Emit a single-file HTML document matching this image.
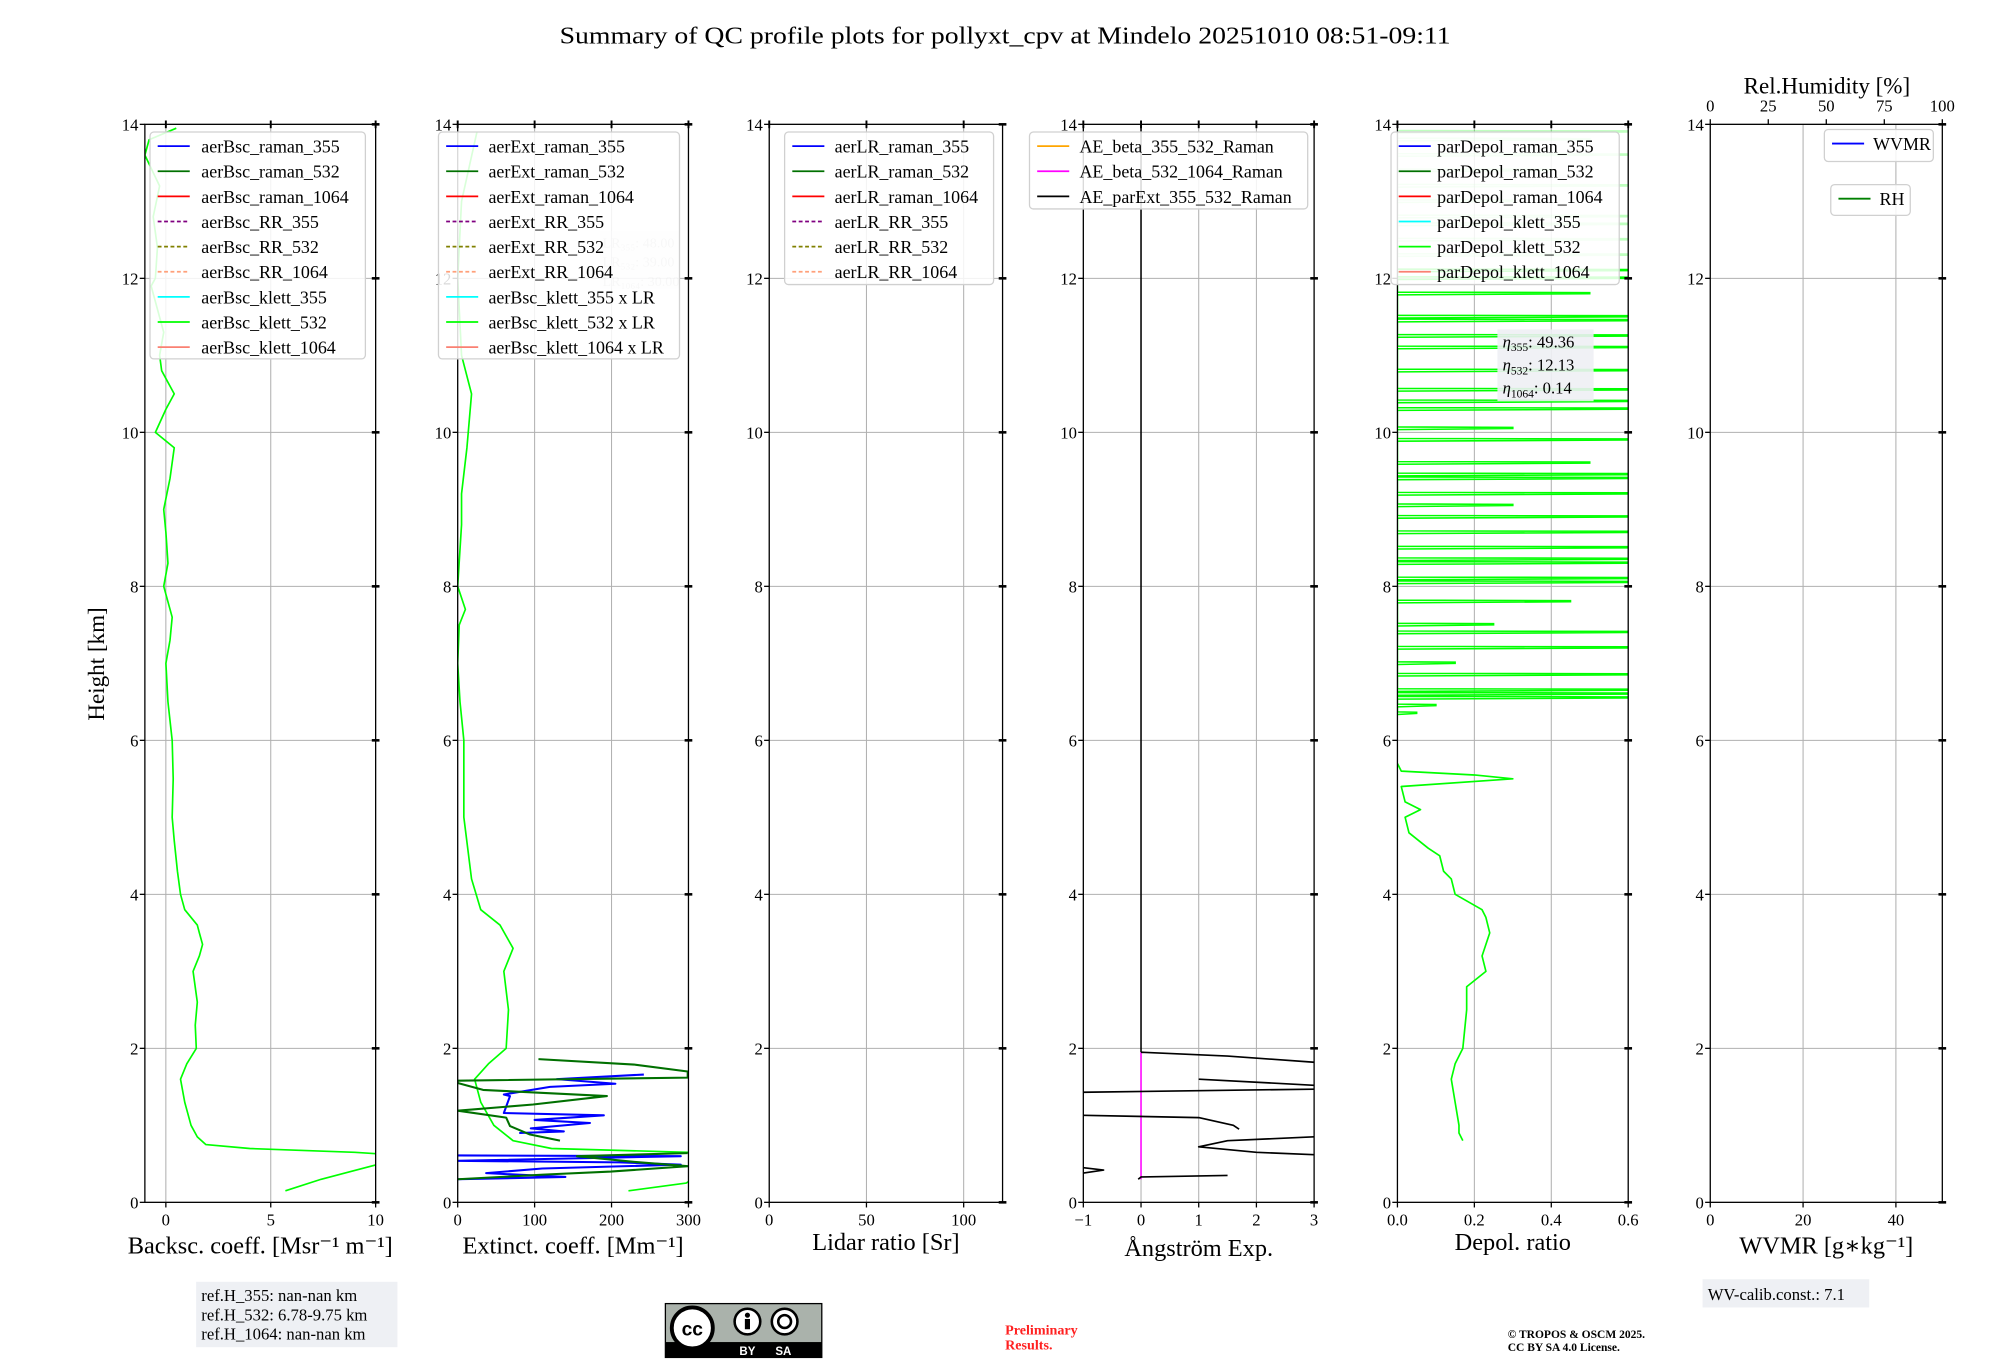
<!DOCTYPE html>
<html><head><meta charset="utf-8">
<style>
html,body{margin:0;padding:0;background:#fff;}
svg{display:block;font-family:"Liberation Serif","DejaVu Serif",serif;}
</style></head>
<body>
<svg id="fig" xmlns="http://www.w3.org/2000/svg" width="2000" height="1360" viewBox="0 0 1560 1061" preserveAspectRatio="none">
<rect width="1560" height="1061" fill="#fff"/>
<text x="784" y="34" font-size="19" text-anchor="middle" textLength="695" lengthAdjust="spacingAndGlyphs">Summary of QC profile plots for pollyxt_cpv at Mindelo 20251010 08:51-09:11</text>
<text x="0" y="0" font-size="18" text-anchor="middle" transform="translate(81,518) rotate(-90)">Height [km]</text>
<g id="plots"></g>
<rect x="153" y="1000" width="157" height="51" fill="#eef0f4"/>
<text x="157" y="1015" font-size="13">ref.H_355: nan-nan km</text>
<text x="157" y="1030" font-size="13">ref.H_532: 6.78-9.75 km</text>
<text x="157" y="1045" font-size="13">ref.H_1064: nan-nan km</text>
<g>
<rect x="519" y="1017" width="122" height="42" fill="#aab2ab" stroke="#000" stroke-width="1"/>
<rect x="519" y="1047" width="122" height="12" fill="#000"/>
<circle cx="540" cy="1036" r="16" fill="#fff" stroke="#000" stroke-width="3"/>
<text x="540" y="1042" font-size="15" font-weight="bold" text-anchor="middle" font-family="Liberation Sans,sans-serif">cc</text>
<circle cx="583" cy="1031" r="10" fill="#fff" stroke="#000" stroke-width="2"/>
<circle cx="583" cy="1026" r="2" fill="#000"/><rect x="581" y="1029" width="4" height="8" fill="#000"/>
<circle cx="612" cy="1031" r="10" fill="#fff" stroke="#000" stroke-width="2"/>
<circle cx="612" cy="1031" r="5" fill="none" stroke="#000" stroke-width="2"/>
<text x="583" y="1057" font-size="9" fill="#fff" font-weight="bold" text-anchor="middle" font-family="Liberation Sans,sans-serif">BY</text>
<text x="611" y="1057" font-size="9" fill="#fff" font-weight="bold" text-anchor="middle" font-family="Liberation Sans,sans-serif">SA</text>
</g>
<text x="784" y="1041" font-size="11" font-weight="bold" fill="#ff2020">Preliminary</text>
<text x="784" y="1053" font-size="11" font-weight="bold" fill="#ff2020">Results.</text>
<text x="1176" y="1044" font-size="9" font-weight="bold">© TROPOS &amp; OSCM 2025.</text>
<text x="1176" y="1054" font-size="9" font-weight="bold">CC BY SA 4.0 License.</text>
<rect x="1328" y="998" width="130" height="22" fill="#eef0f4"/>
<text x="1332" y="1014" font-size="13">WV-calib.const.: 7.1</text>
</svg>
<script>
const bscHeights = [0.15,0.3,0.4,0.5,0.6,0.65,0.7,0.75,0.85,1.0,1.3,1.6,1.8,2.0,2.3,2.6,3.0,3.2,3.35,3.5,3.6,3.8,4.0,4.3,4.7,5.0,5.5,6.0,6.5,7.0,7.3,7.6,8.0,8.3,8.7,9.0,9.4,9.8,10.0,10.3,10.5,10.8,11.0,11.3,11.6,11.9,12.0,12.4,12.8,13.2,13.6,13.8,13.95];
const bscKlett532 = [5.7,7.4,8.8,10.2,12,9,4,1.9,1.5,1.2,0.9,0.7,1.0,1.45,1.4,1.5,1.3,1.6,1.75,1.6,1.5,0.9,0.7,0.55,0.4,0.3,0.35,0.3,0.1,0,0.2,0.3,-0.1,0.1,0,-0.1,0.2,0.4,-0.5,0,0.4,-0.2,-0.3,-0.1,-0.4,-0.7,-0.5,-0.4,-0.6,-0.3,-1,-0.8,0.5];

const extHeights = [0.15,0.25,0.4,0.6,0.65,0.7,0.8,1.0,1.3,1.6,1.8,2.0,2.5,3.0,3.3,3.6,3.8,4.2,5.0,6.0,6.5,7.0,7.5,7.7,8.0,8.8,9.2,9.8,10.5,11.0,11.6,12.0,13.0,13.9];
const extKlett532 = [222,297,320,320,300,122,72,47,30,22,40,63,66,60,72,55,30,18,8,8,3,0,2,10,0,5,5,12,18,5,2,0,5,25];

const extRaman532H = [1.86,1.79,1.70,1.66,1.62,1.58,1.55,1.46,1.38,1.27,1.19,1.10,0.99,0.88,0.80];
const extRaman532V = [105,229,299,299,299,0,0,33,194,98,0,63,68,94,133];
const extRaman532LowH = [0.64,0.60,0.53,0.47,0.40,0.36,0.30];
const extRaman532LowV = [299,155,225,299,199,111,0];
const extRaman355H = [1.66,1.60,1.54,1.50,1.40,1.38,1.16,1.13,1.07,1.03,0.96,0.92,0.90];
const extRaman355V = [242,129,205,120,60,68,60,190,100,172,95,138,80];
const extRaman355LowH = [0.61,0.60,0.54,0.52,0.49,0.44,0.38,0.33,0.30];
const extRaman355LowV = [0,290,0,210,290,110,37,140,0];

const aeSeg1H = [1.95,1.9,1.82]; const aeSeg1V = [0,1.5,3];
const aeSeg2H = [1.6,1.52]; const aeSeg2V = [1.0,3];
const aeSeg3H = [1.47,1.43]; const aeSeg3V = [3,-1];
const aeSeg4H = [1.13,1.1,1.0,0.95]; const aeSeg4V = [-1,1,1.6,1.7];
const aeSeg5H = [0.85,0.8,0.72,0.65,0.62]; const aeSeg5V = [3,1.5,1,2,3];
const aeSeg6H = [0.45,0.42,0.38]; const aeSeg6V = [-1,-0.65,-1];
const aeSeg7H = [0.35,0.33,0.3]; const aeSeg7V = [1.5,0,-0.05];

const depHeights = [0.8,0.9,1.0,1.3,1.6,1.8,2.0,2.5,2.8,3.0,3.2,3.5,3.7,3.8,4.0,4.2,4.3,4.5,4.6,4.8,5.0,5.1,5.2,5.4,5.5,5.55,5.6,5.7];
const depKlett532 = [0.17,0.16,0.16,0.15,0.14,0.15,0.17,0.18,0.18,0.23,0.22,0.24,0.23,0.22,0.15,0.14,0.12,0.11,0.08,0.03,0.02,0.06,0.02,0.01,0.3,0.2,0.01,0];
const depSpikeH = [6.35,6.45,6.55,6.6,6.65,6.85,7.0,7.2,7.4,7.5,7.8,8.05,8.1,8.3,8.35,8.5,8.7,8.9,9.05,9.2,9.4,9.45,9.6,9.9,10.05,10.3,10.4,10.55,10.8,11.1,11.25,11.45,11.5,11.8,12.0,12.1];
const depSpikeV = [0.05,0.1,0.6,0.6,0.6,0.6,0.15,0.6,0.6,0.25,0.45,0.6,0.6,0.6,0.6,0.6,0.6,0.6,0.3,0.6,0.6,0.6,0.5,0.6,0.3,0.6,0.6,0.6,0.6,0.6,0.6,0.6,0.6,0.5,0.6,0.6];
const depFadedH = [12.3,12.5,12.7,12.8,13.0,13.2,13.4,13.6,13.8,13.9];
const depFadedV = [0.6,0.6,0.6,0.6,0.3,0.6,0.4,0.6,0.5,0.6];

const heightTicks = [0,2,4,6,8,10,12,14];
const rhTicks = [0,25,50,75,100];

const NS = "http://www.w3.org/2000/svg";
const root = document.getElementById('plots');
const Y0 = 938, Y1 = 97;
function yS(h){ return Y0 - h*(Y0-Y1)/14; }
function mk(tag, attrs, parent){ const e=document.createElementNS(NS,tag); for(const k in attrs) e.setAttribute(k,attrs[k]); (parent||root).appendChild(e); return e; }

const panels = [
 {key:'bsc', x0:113,x1:293,d:[-1,10],ticks:[0,5,10],lab:['0','5','10'],title:'Backsc. coeff. [Msr⁻¹ m⁻¹]',ty:978},
 {key:'ext', x0:357,x1:537,d:[0,300],ticks:[0,100,200,300],lab:['0','100','200','300'],title:'Extinct. coeff. [Mm⁻¹]',ty:978},
 {key:'lr', x0:600,x1:782,d:[0,120],ticks:[0,50,100],lab:['0','50','100'],title:'Lidar ratio [Sr]',ty:975},
 {key:'ae', x0:845,x1:1025,d:[-1,3],ticks:[-1,0,1,2,3],lab:['−1','0','1','2','3'],title:'Ångström Exp.',ty:980},
 {key:'dep', x0:1090,x1:1270,d:[0,0.6],ticks:[0,0.2,0.4,0.6],lab:['0.0','0.2','0.4','0.6'],title:'Depol. ratio',ty:975},
 {key:'wv', x0:1334,x1:1515,d:[0,50],ticks:[0,20,40],lab:['0','20','40'],title:'WVMR [g∗kg⁻¹]',ty:978}
];
function xs(p){ return v => p.x0 + (v-p.d[0])*(p.x1-p.x0)/(p.d[1]-p.d[0]); }

function line(g, p, H, V, color, w, name, op){
  const X = xs(p);
  const pts = H.map((h,i)=> X(V[i]).toFixed(1)+','+yS(h).toFixed(1)).join(' ');
  const el = mk('polyline',{points:pts,fill:'none',stroke:color,'stroke-width':w||1.3,'stroke-linejoin':'round','clip-path':'url(#clip-'+p.key+')',opacity:op||1},g);
  
  
  return el;
}
function spikes(g,p,H,V,color,name,op){
  const X = xs(p); let pts=[];
  H.forEach((h,i)=>{ pts.push(X(0)+','+yS(h-0.015)); pts.push(X(V[i])+','+yS(h)); pts.push(X(V[i])+','+yS(h+0.015)); pts.push(X(0)+','+yS(h+0.02)); });
  const el = mk('polyline',{points:pts.join(' '),fill:'none',stroke:color,'stroke-width':1.2,'clip-path':'url(#clip-'+p.key+')',opacity:op||1},g);
  
  
}

const defs = mk('defs',{});
panels.forEach(p=>{
  const cp = mk('clipPath',{id:'clip-'+p.key},defs);
  mk('rect',{x:p.x0,y:Y1,width:p.x1-p.x0,height:Y0-Y1},cp);
  const g = mk('g',{});
  
  
  p.g = g;
  const X = xs(p);
  heightTicks.forEach(h=>{ mk('line',{x1:p.x0,x2:p.x1,y1:yS(h),y2:yS(h),stroke:'#b0b0b0','stroke-width':0.8},g); });
  p.ticks.forEach(t=>{ mk('line',{x1:X(t),x2:X(t),y1:Y1,y2:Y0,stroke:'#b0b0b0','stroke-width':0.8},g); });
});

const P = {}; panels.forEach(p=>P[p.key]=p);
line(P.bsc.g,P.bsc,bscHeights,bscKlett532,'#00ff00',1.3,'bsc-klett-532-line');
line(P.ext.g,P.ext,extHeights,extKlett532,'#00ff00',1.3,'ext-klett-532-line');
line(P.ext.g,P.ext,extRaman355H,extRaman355V,'#0000ff',1.6,'ext-raman-355-line');
line(P.ext.g,P.ext,extRaman355LowH,extRaman355LowV,'#0000ff',1.6,'ext-raman-355-low-line');
line(P.ext.g,P.ext,extRaman532H,extRaman532V,'#007000',1.6,'ext-raman-532-line');
line(P.ext.g,P.ext,extRaman532LowH,extRaman532LowV,'#007000',1.6,'ext-raman-532-low-line');
line(P.ae.g,P.ae,[1.95,14],[0,0],'#000',1.2,'ae-parext-upper-line');
line(P.ae.g,P.ae,[0.3,1.95],[0,0],'#ff00ff',1.2,'ae-beta-532-1064-line');
[[aeSeg1H,aeSeg1V],[aeSeg2H,aeSeg2V],[aeSeg3H,aeSeg3V],[aeSeg4H,aeSeg4V],[aeSeg5H,aeSeg5V],[aeSeg6H,aeSeg6V],[aeSeg7H,aeSeg7V]].forEach((s,i)=>line(P.ae.g,P.ae,s[0],s[1],'#000',1.3,'ae-parext-segment-'+i));
line(P.dep.g,P.dep,depHeights,depKlett532,'#00ff00',1.3,'dep-klett-532-line');
spikes(P.dep.g,P.dep,depSpikeH,depSpikeV,'#00ff00','dep-klett-532-spikes');
spikes(P.dep.g,P.dep,depFadedH,depFadedV,'#00ff00','dep-klett-532-faded',0.25);

panels.forEach(p=>{
  const g=p.g, X=xs(p);
  mk('rect',{x:p.x0,y:Y1,width:p.x1-p.x0,height:Y0-Y1,fill:'none',stroke:'#000','stroke-width':1},g);
  heightTicks.forEach(h=>{
    mk('line',{x1:p.x0-4,x2:p.x0,y1:yS(h),y2:yS(h),stroke:'#000','stroke-width':1},g);
    mk('line',{x1:p.x1-3,x2:p.x1+3,y1:yS(h),y2:yS(h),stroke:'#000','stroke-width':2},g);
    const t=mk('text',{x:p.x0-5,y:yS(h)+5,'font-size':13,'text-anchor':'end'},g); t.textContent=String(h);
    
    
  });
  p.ticks.forEach((v,i)=>{
    mk('line',{x1:X(v),x2:X(v),y1:Y0,y2:Y0+4,stroke:'#000','stroke-width':1},g);
    if(p.key!=='wv') mk('line',{x1:X(v),x2:X(v),y1:Y1-3,y2:Y1+3,stroke:'#000','stroke-width':1.5},g);
    const t=mk('text',{x:X(v),y:Y0+18,'font-size':13,'text-anchor':'middle'},g); t.textContent=p.lab[i];
    
    
  });
  const tt=mk('text',{x:(p.x0+p.x1)/2,y:p.ty,'font-size':19,'text-anchor':'middle'},g); tt.textContent=p.title;
  
  
});
(function(){
  const p=P.wv, g=p.g;
  rhTicks.forEach(v=>{
    const x=p.x0+v*(p.x1-p.x0)/100;
    mk('line',{x1:x,x2:x,y1:Y1-4,y2:Y1,stroke:'#000','stroke-width':1},g);
    const t=mk('text',{x:x,y:Y1-10,'font-size':13,'text-anchor':'middle'},g); t.textContent=String(v);
    
    
  });
  const t=mk('text',{x:1425,y:73,'font-size':18,'text-anchor':'middle'},g); t.textContent='Rel.Humidity [%]';
  
  
})();

function legend(name,x,y,w,h,tx,entries){
  const g=mk('g',{});
  
  
  mk('rect',{x:x,y:y,width:w,height:h,rx:3,fill:'#fff','fill-opacity':0.85,stroke:'#d0d0d0','stroke-width':1},g);
  entries.forEach((e,i)=>{
    const yy=y+11+i*19.6;
    const ln=mk('line',{x1:x+6,x2:x+31,y1:yy,y2:yy,stroke:e[1],'stroke-width':1.4},g);
    if(e[2]) ln.setAttribute('stroke-dasharray','3,2');
    const t=mk('text',{x:tx,y:yy+5,'font-size':14},g); t.textContent=e[0];
    
    
  });
}
legend('bsc-legend',117,103,168,177,157,[['aerBsc_raman_355','#0000ff'],['aerBsc_raman_532','#007000'],['aerBsc_raman_1064','#ff0000'],['aerBsc_RR_355','#800080',1],['aerBsc_RR_532','#808000',1],['aerBsc_RR_1064','#ffa07a',1],['aerBsc_klett_355','#00ffff'],['aerBsc_klett_532','#00ff00'],['aerBsc_klett_1064','#fa8072']]);
(function(){
  const g=mk('g',{opacity:0.35});
  
  
  mk('rect',{x:468,y:180,width:62,height:45,fill:'#e8eaf0'},g);
  ['LR₃₅₅: 48.00','LR₅₃₂: 39.00','LR₁₀₆₄: 30.00'].forEach((s,i)=>{const t=mk('text',{x:470,y:193+i*15,'font-size':11,fill:'#666'},g); t.textContent=s;});
})();
legend('ext-legend',342,103,188,177,381,[['aerExt_raman_355','#0000ff'],['aerExt_raman_532','#007000'],['aerExt_raman_1064','#ff0000'],['aerExt_RR_355','#800080',1],['aerExt_RR_532','#808000',1],['aerExt_RR_1064','#ffa07a',1],['aerBsc_klett_355 x LR','#00ffff'],['aerBsc_klett_532 x LR','#00ff00'],['aerBsc_klett_1064 x LR','#fa8072']]);
legend('lr-legend',612,103,163,119,651,[['aerLR_raman_355','#0000ff'],['aerLR_raman_532','#007000'],['aerLR_raman_1064','#ff0000'],['aerLR_RR_355','#800080',1],['aerLR_RR_532','#808000',1],['aerLR_RR_1064','#ffa07a',1]]);
legend('ae-legend',803,103,217,60,842,[['AE_beta_355_532_Raman','#ffa500'],['AE_beta_532_1064_Raman','#ff00ff'],['AE_parExt_355_532_Raman','#000000']]);
legend('dep-legend',1085,103,178,119,1121,[['parDepol_raman_355','#0000ff'],['parDepol_raman_532','#007000'],['parDepol_raman_1064','#ff0000'],['parDepol_klett_355','#00ffff'],['parDepol_klett_532','#00ff00'],['parDepol_klett_1064','#fa8072']]);
legend('wvmr-legend',1423,101,85,25,1461,[['WVMR','#0000ff']]);
legend('rh-legend',1428,144,62,24,1466,[['RH','#008000']]);
(function(){
  const g=mk('g',{});
  
  
  mk('rect',{x:1168,y:257,width:75,height:56,fill:'#eef0f4','fill-opacity':0.9},g);
  [['η','355',': 49.36'],['η','532',': 12.13'],['η','1064',': 0.14']].forEach((s,i)=>{
    const t=mk('text',{x:1172,y:271+i*18,'font-size':13},g);
    const a=mk('tspan',{'font-style':'italic'},t); a.textContent=s[0];
    const b=mk('tspan',{'font-size':9,dy:3},t); b.textContent=s[1];
    const c=mk('tspan',{dy:-3},t); c.textContent=s[2];
  });
})();
</script>
</body></html>
